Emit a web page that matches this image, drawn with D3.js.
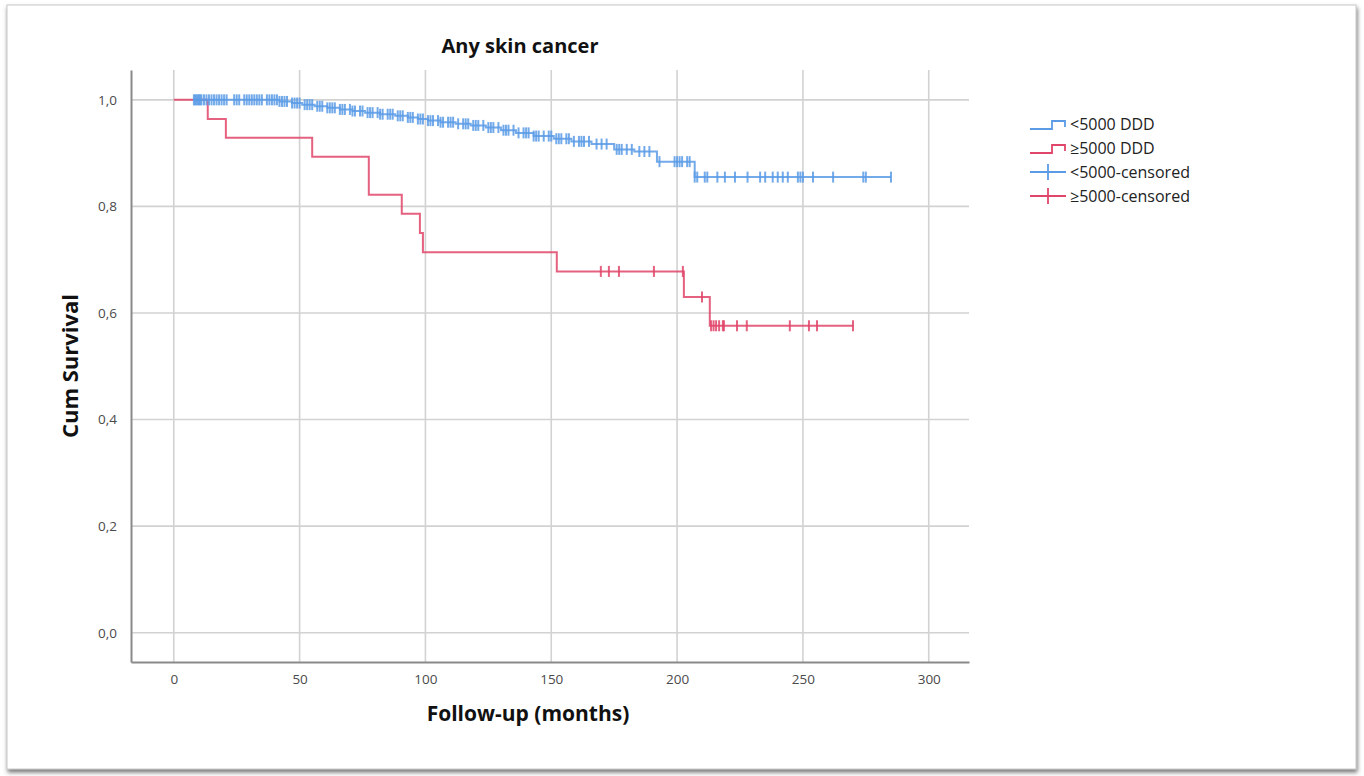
<!DOCTYPE html>
<html>
<head>
<meta charset="utf-8">
<script src="https://cdn.jsdelivr.net/npm/d3@7"></script>
<style>
  body { margin: 0; background: #ffffff; }
  text { font-family: "Open Sans", sans-serif; }
</style>
</head>
<body>
<script>
//DATA
var titleText = "Any skin cancer";
var xTicks = [0, 50, 100, 150, 200, 250, 300];
var yTicks = [0, 0.2, 0.4, 0.6, 0.8, 1.0];

// <5000 DDD group: step times (months) and survival after each step
var blueTimes = [7.6, 42, 47, 51, 56, 61, 66, 71, 76, 82, 88, 93, 97, 101, 106, 112, 118, 124, 130, 136, 143, 151, 158, 166, 175, 183, 192, 207];
var blueSurv  = [1, 0.997, 0.994, 0.991, 0.988, 0.985, 0.982, 0.979, 0.976, 0.973, 0.970, 0.967, 0.964, 0.961, 0.958, 0.955, 0.952, 0.948, 0.943, 0.938, 0.932, 0.927, 0.922, 0.917, 0.907, 0.903, 0.884, 0.855];
var blueEnd = 285;
var blueCensored = [8, 8.5, 9, 9.5, 10, 10.5, 11, 12, 13, 14, 15, 16, 17, 18, 19, 20, 21, 24, 25, 26, 28, 29, 30, 31, 32, 33, 34, 35,
  37, 38, 39, 40, 41, 42, 43, 44, 45, 47, 48, 49, 50, 52, 53, 54, 55, 57, 58, 59, 61, 62, 63, 64, 66, 67, 68, 70, 71, 72,
  74, 75, 77, 78, 79, 81, 82, 83, 85, 86, 87, 89, 90, 91, 93, 94, 95, 97, 98, 99, 101, 102, 103, 105, 106, 107,
  109, 110, 111, 113, 115, 116, 117, 119, 120, 121, 123, 125, 126, 127, 129, 131, 132, 133, 135, 137, 139, 140,
  141, 143, 144, 145, 147, 149, 150, 152, 153, 154, 156, 157, 159, 161, 162, 163, 165, 168, 170, 172, 176, 177, 178,
  180, 182, 185, 187, 189, 193, 199, 200, 201, 202, 204, 205, 207, 208, 211, 212, 216, 219, 223, 228, 233, 235,
  238, 240, 242, 244, 248, 249, 250, 254, 262, 274, 275, 285];

// >=5000 DDD group
var redTimes = [0, 13.5, 20.7, 55, 77.5, 90.6, 97.8, 99, 152.2, 202.7, 213];
var redSurv  = [1, 0.964, 0.929, 0.893, 0.822, 0.786, 0.750, 0.714, 0.678, 0.630, 0.576];
var redEnd = 270;
var redCensored = [169.7, 172.9, 176.9, 190.8, 202.3, 209.9, 213.5, 214.5, 215.5, 216.7, 218.2, 218.6, 223.8, 227.7, 244.8, 252.4, 255.6, 269.9];

var legendLabels = ["<5000 DDD", "\u22655000 DDD", "<5000-censored", "\u22655000-censored"];

var blue = "#5b9be6";
var red = "#e0456a";

//SETTING UP THE CANVAS
var w = 1364;
var h = 776;
var svg = d3.select("body").append("svg")
  .attr("width", w)
  .attr("height", h);

// frame with a soft shadow, like a pasted screenshot
var defs = svg.append("defs");
var f = defs.append("filter").attr("id", "shadow")
  .attr("x", "-2%").attr("y", "-2%").attr("width", "104%").attr("height", "104%");
f.append("feDropShadow").attr("dx", 1).attr("dy", 3).attr("stdDeviation", 2)
  .attr("flood-color", "#555").attr("flood-opacity", 0.8);
svg.append("rect")
  .attr("x", 7).attr("y", 5).attr("width", 1349).attr("height", 764)
  .attr("fill", "white").attr("stroke", "#c8c8c8").attr("stroke-width", 1)
  .attr("filter", "url(#shadow)");

//SCALES
var x = d3.scaleLinear().domain([-17, 316]).range([131, 969]);
var y = d3.scaleLinear().domain([-0.055, 1.056]).range([662, 70]);

//GRID
svg.append("g").selectAll("line").data(xTicks).join("line")
  .attr("x1", function(d){ return x(d); }).attr("x2", function(d){ return x(d); })
  .attr("y1", y.range()[1]).attr("y2", y.range()[0])
  .attr("stroke", "#d2d2d2").attr("stroke-width", 1.6);
svg.append("g").selectAll("line").data(yTicks).join("line")
  .attr("x1", x.range()[0]).attr("x2", x.range()[1])
  .attr("y1", function(d){ return y(d); }).attr("y2", function(d){ return y(d); })
  .attr("stroke", "#d2d2d2").attr("stroke-width", 1.6);

//AXES
var xAxis = svg.append("g")
  .attr("transform", "translate(0," + y.range()[0] + ")")
  .call(d3.axisBottom(x).tickValues(xTicks).tickSize(0).tickPadding(12));
var yAxis = svg.append("g")
  .attr("transform", "translate(" + x.range()[0] + ",0)")
  .call(d3.axisLeft(y).tickValues(yTicks).tickSize(0).tickPadding(14)
    .tickFormat(function(d){ return d3.format(".1f")(d).replace(".", ","); }));
[xAxis, yAxis].forEach(function(a){
  a.select(".domain").attr("stroke", "#8a8a8a").attr("stroke-width", 2);
  a.selectAll("text").attr("fill", "#4a4a4a").style("font-size", "13.5px")
    .style("font-family", "'Open Sans', sans-serif");
});

//TITLES
svg.append("text").attr("x", 520).attr("y", 53).attr("text-anchor", "middle")
  .style("font-size", "20px").style("font-weight", "bold").attr("fill", "#111")
  .text(titleText);
svg.append("text").attr("x", 528).attr("y", 721).attr("text-anchor", "middle")
  .style("font-size", "21px").style("font-weight", "bold").attr("fill", "#111")
  .text("Follow-up (months)");
svg.append("text").attr("transform", "translate(78,366) rotate(-90)").attr("text-anchor", "middle")
  .style("font-size", "22px").style("font-weight", "bold").attr("fill", "#111")
  .text("Cum Survival");

//STEP CURVES
function stepPoints(times, surv, end){
  var pts = [];
  for(var i = 0; i < times.length; i++){
    pts.push([times[i], surv[i]]);
  }
  pts.push([end, surv[surv.length - 1]]);
  return pts;
}
function survAt(times, surv, t){
  var s = surv[0];
  for(var i = 0; i < times.length; i++){
    if(times[i] <= t) s = surv[i];
  }
  return s;
}
var line = d3.line()
  .x(function(d){ return x(d[0]); })
  .y(function(d){ return y(d[1]); })
  .curve(d3.curveStepAfter);

function drawGroup(times, surv, end, censored, color){
  svg.append("path")
    .datum(stepPoints(times, surv, end))
    .attr("d", line)
    .attr("fill", "none")
    .attr("stroke", color)
    .attr("stroke-width", 2)
    .attr("stroke-opacity", 0.85);
  svg.append("g").selectAll("line").data(censored).join("line")
    .attr("x1", function(d){ return x(d); }).attr("x2", function(d){ return x(d); })
    .attr("y1", function(d){ return y(survAt(times, surv, d)) - 5.5; })
    .attr("y2", function(d){ return y(survAt(times, surv, d)) + 5.5; })
    .attr("stroke", color).attr("stroke-width", 2).attr("stroke-opacity", 0.85);
}
drawGroup(redTimes, redSurv, redEnd, redCensored, red);
drawGroup(blueTimes, blueSurv, blueEnd, blueCensored, blue);

//LEGEND
var legendY = [124, 148, 172, 196];
var legendColors = [blue, red, blue, red];
var lg = svg.append("g").selectAll("g").data(legendLabels).join("g")
  .attr("transform", function(d, i){ return "translate(1030," + legendY[i] + ")"; });
lg.filter(function(d, i){ return i < 2; }).append("path")
  .attr("d", "M0,5 H22 V-3 H35 V3")
  .attr("fill", "none")
  .attr("stroke", function(d, i){ return legendColors[i]; })
  .attr("stroke-width", 1.8);
lg.filter(function(d, i){ return i >= 2; }).append("path")
  .attr("d", "M0,0 H36 M18,-8 V8")
  .attr("fill", "none")
  .attr("stroke", function(d, i){ return legendColors[i + 2]; })
  .attr("stroke-width", 1.8);
lg.append("text")
  .attr("x", 40).attr("y", 6)
  .style("font-size", "16px").attr("fill", "#222")
  .text(function(d){ return d; });
</script>
</body>
</html>
